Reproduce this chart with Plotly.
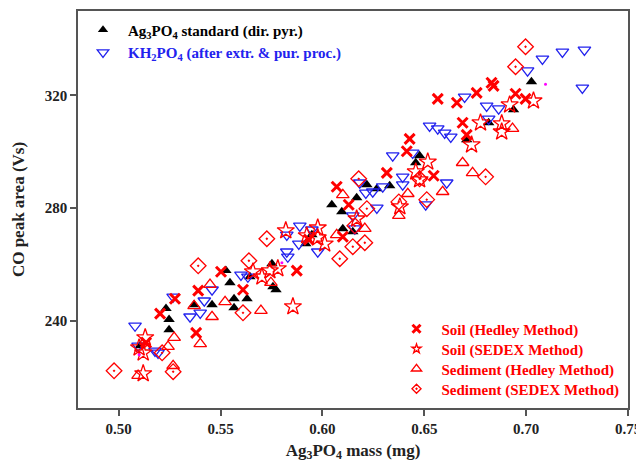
import plotly.graph_objects as go

# ---- data (Ag3PO4 mass in mg, CO peak area in Vs) ----
std_x = [0.5105, 0.5232, 0.5247, 0.5247, 0.537, 0.5458, 0.5546, 0.5526, 0.5566, 0.563,
         0.5566, 0.5644, 0.5752, 0.5757, 0.5772, 0.5918, 0.5948, 0.6046, 0.6095, 0.6168,
         0.6218, 0.6267, 0.633, 0.61, 0.6149, 0.6458, 0.6477, 0.6708, 0.6816, 0.6938, 0.7026]
std_y = [231.1, 244.3, 240.4, 236.8, 245.7, 245.7, 253.5, 257.8, 247.8, 247.8,
         244.6, 255.6, 260.2, 252.1, 251.0, 267.3, 270.5, 281.2, 278.7, 283.7,
         288.3, 286.9, 287.9, 272.7, 271.6, 296.1, 298.6, 304.3, 310.3, 314.9, 324.9]

kh_x = [0.508, 0.5095, 0.5178, 0.5193, 0.5267, 0.535, 0.540, 0.542, 0.5458, 0.560,
        0.5634, 0.5825, 0.5825, 0.583, 0.5884, 0.5889, 0.5948, 0.5977, 0.6149, 0.6159,
        0.6183, 0.6213, 0.6247, 0.6296, 0.6267, 0.6345, 0.6443, 0.6394, 0.6394, 0.6507,
        0.661, 0.6526, 0.6566, 0.66, 0.663, 0.6698, 0.6806, 0.6865, 0.6816, 0.7007,
        0.708, 0.7178, 0.7286, 0.7276]
kh_y = [238.2, 231.1, 229.3, 228.6, 248.5, 241.4, 242.8, 247.1, 251.0, 256.3,
        255.6, 270.5, 264.5, 262.7, 267.3, 273.7, 272.3, 264.5, 277.3, 272.7,
        289.0, 285.4, 285.8, 287.6, 280.1, 298.6, 299.6, 291.1, 288.3, 281.2,
        289.0, 309.2, 308.2, 306.7, 305.3, 319.5, 316.3, 315.3, 311.7, 328.8,
        333.0, 335.5, 336.2, 322.7]

soil_hed_x = [0.5134, 0.5203, 0.5276, 0.538, 0.539, 0.5502, 0.561, 0.5874, 0.5933, 0.607,
              0.6129, 0.61, 0.6316, 0.6414, 0.6546, 0.6566, 0.666, 0.6757, 0.683, 0.684,
              0.6948, 0.6997, 0.6688, 0.6708, 0.6428]
soil_hed_y = [232.2, 242.5, 247.8, 235.7, 250.7, 257.4, 251.0, 257.8, 268.8, 287.6,
              281.2, 269.8, 292.5, 300.2, 291.5, 318.8, 317.4, 320.9, 324.5, 323.4,
              320.6, 318.8, 310.3, 306.0, 304.6]

soil_sed_x = [0.510, 0.513, 0.512, 0.512, 0.5659, 0.5703, 0.5742, 0.5781, 0.582, 0.5855,
              0.5923, 0.5977, 0.5977, 0.6011, 0.6168, 0.638, 0.6458, 0.6517, 0.6477, 0.6732,
              0.6776, 0.688, 0.688, 0.6919, 0.7036]
soil_sed_y = [230.4, 234.0, 228.6, 221.2, 257.4, 255.6, 257.8, 258.5, 272.0, 245.0,
              270.2, 273.0, 269.5, 267.3, 276.2, 280.5, 292.9, 296.4, 290.1, 302.5,
              310.3, 310.0, 307.1, 316.7, 318.1]

sed_hed_x = [0.5095, 0.5267, 0.5242, 0.5272, 0.540, 0.537, 0.5448, 0.5458, 0.5522, 0.5698,
             0.5747, 0.61, 0.607, 0.6208, 0.6375, 0.6419, 0.659, 0.6688, 0.6737, 0.6933]
sed_hed_y = [220.5, 224.0, 230.8, 234.0, 231.8, 245.3, 252.8, 241.4, 246.7, 243.6,
             253.5, 284.7, 270.5, 272.7, 277.3, 285.1, 285.8, 296.1, 292.5, 308.2]

sed_sed_x = [0.4977, 0.5267, 0.5213, 0.539, 0.5639, 0.5727, 0.561, 0.6178, 0.6218, 0.6159,
             0.6149, 0.6208, 0.6085, 0.6375, 0.6477, 0.6512, 0.6801, 0.6948, 0.6997]
sed_sed_y = [222.2, 221.9, 228.6, 259.5, 261.3, 269.1, 242.8, 290.4, 279.8, 273.7,
             266.3, 267.7, 262.0, 282.2, 290.4, 283.0, 291.1, 330.2, 337.3]

dot_x = [0.7095, 0.5801, 0.510]
dot_y = [324.0, 260.6, 227.9]

x_ticks = [0.50, 0.55, 0.60, 0.65, 0.70, 0.75]
y_ticks = [240, 280, 320]

RED = "#ff0000"
BLUE = "#2222ee"
FONT = "Liberation Serif"

series = [
    dict(x=std_x, y=std_y, legend="legend", lx=0.0, ly=0.952, lcolor="black",
         name="Ag<sub>3</sub>PO<sub>4</sub> standard (dir. pyr.)",
         marker=dict(symbol="triangle-up", size=10, color="black"),
         lmarker=dict(symbol="triangle-up", size=9, color="black")),
    dict(x=kh_x, y=kh_y, legend="legend2", lx=0.0, ly=0.895, lcolor=BLUE,
         name="KH<sub>2</sub>PO<sub>4</sub> (after extr. &amp; pur. proc.)",
         marker=dict(symbol="triangle-down-open", size=11, color=BLUE, line=dict(width=1.3, color=BLUE)),
         lmarker=dict(symbol="triangle-down-open", size=10, color=BLUE, line=dict(width=1.3, color=BLUE))),
    dict(x=soil_hed_x, y=soil_hed_y, legend="legend3", lx=0.57, ly=0.199, lcolor=RED,
         name="Soil (Hedley Method)",
         marker=dict(symbol="x-thin-open", size=10, color=RED, line=dict(width=3, color=RED)),
         lmarker=dict(symbol="x-thin-open", size=8, color=RED, line=dict(width=3, color=RED))),
    dict(x=soil_sed_x, y=soil_sed_y, legend="legend4", lx=0.57, ly=0.1486, lcolor=RED,
         name="Soil (SEDEX Method)",
         marker=dict(symbol="star-open", size=13, color=RED, line=dict(width=1.3, color=RED)),
         lmarker=dict(symbol="star-open", size=7, color=RED, line=dict(width=1.3, color=RED))),
    dict(x=sed_hed_x, y=sed_hed_y, legend="legend5", lx=0.57, ly=0.0982, lcolor=RED,
         name="Sediment (Hedley Method)",
         marker=dict(symbol="triangle-up-open", size=11, color=RED, line=dict(width=1.3, color=RED)),
         lmarker=dict(symbol="triangle-up-open", size=9, color=RED, line=dict(width=1.3, color=RED))),
    dict(x=sed_sed_x, y=sed_sed_y, legend="legend6", lx=0.57, ly=0.0479, lcolor=RED,
         name="Sediment (SEDEX Method)",
         marker=dict(symbol="diamond-open-dot", size=12, color=RED, line=dict(width=1.3, color=RED)),
         lmarker=dict(symbol="diamond-open-dot", size=7, color=RED, line=dict(width=1.3, color=RED))),
]

fig = go.Figure()
for s in series:
    fig.add_trace(go.Scatter(x=s["x"], y=s["y"], mode="markers", name=s["name"],
                             marker=s["marker"], showlegend=False))
for s in series:
    fig.add_trace(go.Scatter(x=[None], y=[None], mode="markers", name=s["name"],
                             marker=s["lmarker"], legend=s["legend"], showlegend=True))
fig.add_trace(go.Scatter(
    x=dot_x, y=dot_y, mode="markers", showlegend=False,
    marker=dict(symbol="circle", size=3, color="#ff00ff")))

axis_common = dict(
    showgrid=False, zeroline=False, showline=True, linecolor="#555555", linewidth=1.5,
    mirror=True, ticks="outside", ticklen=6, tickcolor="#555555", tickwidth=1.5,
    automargin=False,
    tickfont=dict(family=FONT, size=15, color="#222222", weight="bold"),
)

legends = {}
for s in series:
    legends[s["legend"]] = dict(
        x=s["lx"], y=s["ly"], xanchor="left", yanchor="middle", itemwidth=40,
        bgcolor="rgba(0,0,0,0)",
        font=dict(family=FONT, size=15, color=s["lcolor"], weight="bold"))

fig.update_layout(
    width=644, height=469,
    margin=dict(l=70, r=24, t=3, b=69),
    paper_bgcolor="white", plot_bgcolor="white",
    xaxis=dict(range=[0.48, 0.75], tickvals=x_ticks, ticktext=[f"{v:.2f}" for v in x_ticks],
               title=dict(text="Ag<sub>3</sub>PO<sub>4</sub> mass (mg)", standoff=8,
                          font=dict(family=FONT, size=17, color="#222222", weight="bold")),
               **axis_common),
    yaxis=dict(range=[209, 350], tickvals=y_ticks,
               title=dict(text="CO peak area (Vs)", standoff=16,
                          font=dict(family=FONT, size=17, color="#222222", weight="bold")),
               **axis_common),
    **legends,
)

fig.write_html("out.html")
